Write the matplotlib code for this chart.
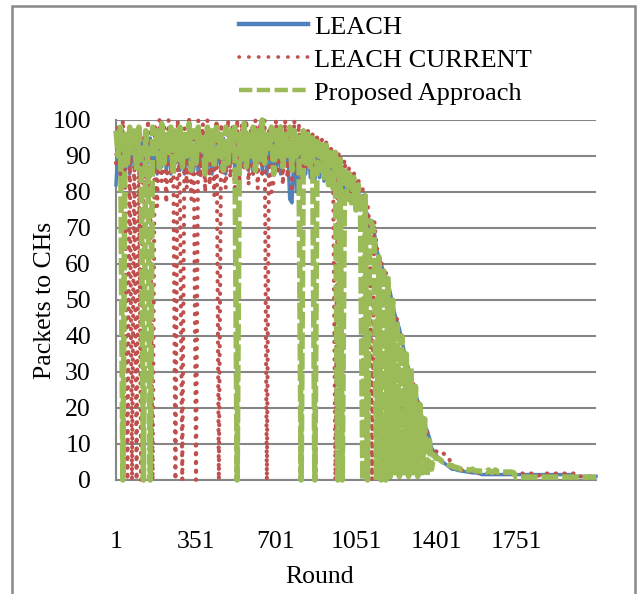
import numpy as np
import matplotlib
matplotlib.use("Agg")
import matplotlib.pyplot as plt
from matplotlib.lines import Line2D
from matplotlib.patches import Rectangle

plt.rcParams['font.family'] = ['Liberation Serif', 'DejaVu Serif']
plt.rcParams['path.simplify'] = False

rounds = np.arange(1, 2102, 10)

leach = [
    82, 94, 83, 95, 86, 94, 85, 95, 87, 94,
    86, 95, 85, 94, 88, 95, 86, 94, 85, 95,
    87, 94, 86, 95, 85, 94, 88, 95, 86, 94,
    85, 95, 87, 94, 86, 95, 85, 94, 88, 95,
    86, 94, 85, 95, 87, 94, 86, 95, 85, 94,
    88, 95, 86, 94, 85, 95, 87, 94, 86, 95,
    85, 94, 88, 95, 86, 94, 85, 95, 87, 94,
    86, 95, 85, 94, 88, 94, 78, 77, 94, 80,
    94, 84, 95, 85, 94, 84, 93, 83, 92, 84,
    92, 83, 91, 82, 90, 81, 89, 80, 88, 79,
    86, 78, 85, 77, 83, 76, 81, 75, 79, 74,
    74, 70, 72, 69, 64, 62, 60, 58, 56, 55,
    52, 49, 46, 44, 42, 39, 36, 33, 31, 28,
    26, 24, 22, 20, 17, 15, 14, 12, 9, 8,
    7, 6, 5.5, 5, 4.5, 4, 3.5, 3, 3, 2.8,
    2.6, 2.5, 2.4, 2.3, 2.2, 2.1, 2, 2, 1.9, 1.8,
    1.5, 1.5, 1.5, 1.5, 1.5, 1.5, 1.5, 1.5, 1.5, 1.5,
    1.5, 1.5, 1.5, 1.5, 1.5, 1.5, 1.5, 1.5, 1.5, 1.5,
    1.5, 1.5, 1.5, 1.5, 1.5, 1.5, 1.5, 1.5, 1.5, 1.5,
    1.5, 1.5, 1.5, 1.5, 1.5, 1.5, 1.5, 1.5, 1.5, 1.5,
    1, 1, 1, 1, 1, 1, 1, 1, 1, 1, 1,
]

leach_current = [
    88, 99, 84, 100, 82, 0, 97, 0, 95, 0,
    98, 0, 96, 81, 100, 79, 0, 98, 76, 100,
    83, 99, 77, 100, 82, 97, 0, 100, 79, 0,
    98, 81, 100, 78, 96, 0, 100, 84, 99, 80,
    100, 82, 97, 79, 100, 0, 99, 85, 81, 100,
    84, 98, 80, 100, 83, 99, 86, 100, 82, 97,
    85, 100, 81, 99, 84, 100, 0, 98, 80, 83,
    100, 86, 99, 82, 100, 84, 98, 80, 100, 85,
    99, 83, 98, 86, 97, 88, 96, 87, 96, 89,
    95, 88, 94, 87, 93, 86, 0, 90, 91, 84,
    89, 82, 87, 80, 86, 79, 84, 77, 81, 75,
    77, 70, 0, 72, 65, 61, 61, 57, 58, 53,
    0, 48, 42, 45, 39, 37, 34, 32, 29, 28,
    27, 21, 22, 16, 17, 12, 14, 9, 8, 7.5,
    8, 7.5, 7.8, 7.5, 7, 6.5, 5.5, 3.6, 3.3, 3,
    2.9, 2.8, 2.7, 2.6, 2.5, 2.4, 2.3, 2.2, 2.1, 2,
    2, 2, 2, 2, 2, 2, 2, 1.8, 1.8, 1.8,
    1.8, 1.8, 1.8, 1.8, 1.8, 1.8, 1.8, 1.8, 1.8, 1.8,
    1.8, 1.8, 1.8, 1.8, 1.8, 1.2, 1.8, 1.8, 1.8, 1.8,
    1.8, 1.8, 1.8, 1.8, 1.8, 1.8, 1.8, 1.8, 1.8, 1.8,
    1.8, 1.8, 1, 1, 1, 1, 1, 1, 1, 1, 1,
]

proposed = [
    97, 90, 98, 0, 96, 88, 98, 91, 97, 86,
    98, 89, 0, 97, 87, 0, 98, 90, 97, 86,
    99, 88, 96, 91, 98, 85, 97, 89, 98, 87,
    96, 90, 99, 86, 97, 88, 98, 91, 96, 85,
    98, 89, 97, 87, 99, 90, 96, 86, 98, 88,
    97, 91, 98, 0, 96, 89, 99, 87, 96, 90,
    98, 86, 97, 89, 100, 88, 96, 91, 98, 85,
    97, 90, 98, 87, 96, 89, 98, 86, 97, 90,
    96, 0, 97, 88, 96, 87, 95, 0, 95, 86,
    94, 84, 93, 82, 92, 81, 91, 0, 89, 0,
    87, 78, 86, 77, 84, 75, 82, 73, 0, 79,
    0, 72, 71, 68, 0, 62, 0, 59, 0, 56,
    1, 50, 2, 44, 1, 40, 2, 35, 1, 31,
    2, 26, 1, 21, 2, 17, 1, 12, 3, 7,
    6, 6, 5.5, 5, 5, 4.5, 4, 4, 3.5, 3.5,
    3.2, 3, 3, 3, 2.8, 2.8, 3, 2.6, 2.5, 2.5,
    2.4, 2.4, 2.2, 2.8, 2.2, 2.2, 2.8, 2.2, 2.2, 2.2,
    2.2, 2.2, 2.2, 2.2, 2.0, 0.8, 0.8, 0.8, 0.8, 0.8,
    0.8, 0.8, 0.8, 0.8, 0.8, 0.8, 0.8, 0.8, 0.8, 0.8,
    0.8, 0.8, 0.8, 0.8, 0.8, 0.8, 0.8, 0.8, 0.8, 0.8,
    0.8, 0.8, 0.8, 0.8, 0.8, 0.8, 0.8, 0.8, 0.8, 0.8, 0.8,
]

x_ticks = [1, 351, 701, 1051, 1401, 1751]
y_ticks = list(range(0, 101, 10))

BLUE = '#4F81BD'
RED = '#C0504D'
GREEN = '#9BBB59'
GRID = '#868686'
FS = 18.5

# ─── Figure ──────────────────────────────────────────────
W, H = 640, 594
fig = plt.figure(figsize=(W / 100, H / 100), dpi=100)
fig.patches.append(Rectangle((12 / W, -0.05), 623 / W, 1.05 - 6 / H,
                             transform=fig.transFigure, fill=False,
                             edgecolor='#898989', lw=1.8))

ax = fig.add_axes([116 / W, 1 - 480 / H, 480 / W, 360 / H])

red_style = (0, (0.1, 2.0))
green_style = (0, (3, 0.7))

ax.plot(rounds, leach, color=BLUE, lw=2.5, clip_on=False, zorder=3)
ax.plot(rounds, leach_current, color=RED, lw=3.0, linestyle=red_style,
        dash_capstyle='round', clip_on=False, zorder=4)
ax.plot(rounds, proposed, color=GREEN, lw=4.0, linestyle=green_style,
        dash_capstyle='butt', clip_on=False, zorder=5)

ax.set_xlim(1, 2101)
ax.set_ylim(0, 100)
ax.set_yticks(y_ticks)
ax.set_xticks(x_ticks)
ax.set_xticklabels([str(t) for t in x_ticks], fontsize=FS)
ax.set_yticklabels([str(t) for t in y_ticks], fontsize=FS)
ax.tick_params(axis='x', length=0, pad=37)
ax.tick_params(axis='y', length=0, pad=18)
ax.grid(axis='y', color=GRID, lw=1.5, zorder=1)
ax.set_axisbelow(True)
for s in ['top', 'right']:
    ax.spines[s].set_visible(False)
for s in ['left', 'bottom']:
    ax.spines[s].set_color(GRID)
    ax.spines[s].set_linewidth(1.5)

fig.text(45 / W, 1 - 300 / H, 'Packets to CHs', rotation=90,
         ha='center', va='center', fontsize=FS)
fig.text(320 / W, 1 - 577 / H, 'Round', ha='center', va='center', fontsize=FS)

# legend
handles = [
    Line2D([0], [0], color=BLUE, lw=3.2),
    Line2D([0], [0], color=RED, lw=2.6, linestyle=(0, (0.1, 2.6)),
           dash_capstyle='round'),
    Line2D([0], [0], color=GREEN, lw=3.2, linestyle=(0, (3, 1))),
]
fig.legend(handles, ['LEACH', 'LEACH CURRENT', 'Proposed Approach'],
           loc='upper left', bbox_to_anchor=(226 / W, 1 - 2 / H),
           frameon=False, fontsize=19, handlelength=2.6,
           handletextpad=0.25, labelspacing=0.36, borderpad=0)

fig.savefig('out.png', dpi=100)
